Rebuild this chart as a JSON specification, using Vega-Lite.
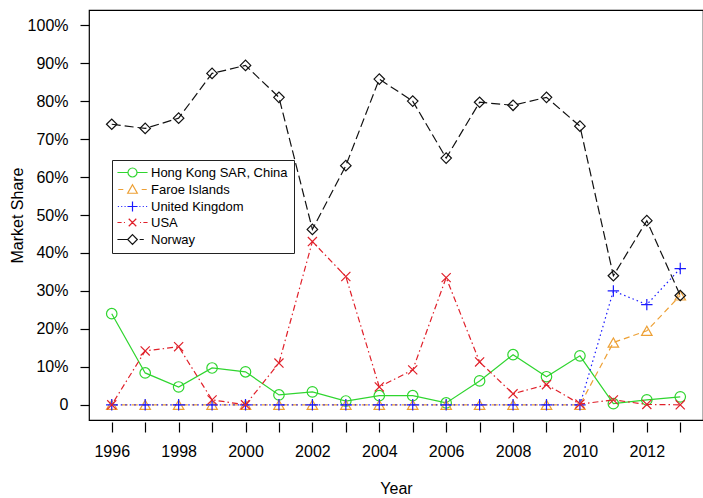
{
  "$schema": "https://vega.github.io/schema/vega-lite/v6.json",
  "autosize": {"type": "none"},
  "width": 614,
  "height": 410,
  "padding": {"left": 89, "top": 10, "right": 0, "bottom": 78},
  "background": "white",
  "config": {
    "font": "Liberation Sans",
    "view": {"stroke": "black", "strokeWidth": 1.2}
  },
  "data": {"values": [
    {"year":1996,"country":"Hong Kong SAR, China","share":0.240},
    {"year":1997,"country":"Hong Kong SAR, China","share":0.084},
    {"year":1998,"country":"Hong Kong SAR, China","share":0.047},
    {"year":1999,"country":"Hong Kong SAR, China","share":0.097},
    {"year":2000,"country":"Hong Kong SAR, China","share":0.087},
    {"year":2001,"country":"Hong Kong SAR, China","share":0.026},
    {"year":2002,"country":"Hong Kong SAR, China","share":0.034},
    {"year":2003,"country":"Hong Kong SAR, China","share":0.010},
    {"year":2004,"country":"Hong Kong SAR, China","share":0.024},
    {"year":2005,"country":"Hong Kong SAR, China","share":0.024},
    {"year":2006,"country":"Hong Kong SAR, China","share":0.005},
    {"year":2007,"country":"Hong Kong SAR, China","share":0.063},
    {"year":2008,"country":"Hong Kong SAR, China","share":0.132},
    {"year":2009,"country":"Hong Kong SAR, China","share":0.074},
    {"year":2010,"country":"Hong Kong SAR, China","share":0.129},
    {"year":2011,"country":"Hong Kong SAR, China","share":0.003},
    {"year":2012,"country":"Hong Kong SAR, China","share":0.013},
    {"year":2013,"country":"Hong Kong SAR, China","share":0.021},
    {"year":1996,"country":"Faroe Islands","share":0},
    {"year":1997,"country":"Faroe Islands","share":0},
    {"year":1998,"country":"Faroe Islands","share":0},
    {"year":1999,"country":"Faroe Islands","share":0},
    {"year":2000,"country":"Faroe Islands","share":0},
    {"year":2001,"country":"Faroe Islands","share":0},
    {"year":2002,"country":"Faroe Islands","share":0},
    {"year":2003,"country":"Faroe Islands","share":0},
    {"year":2004,"country":"Faroe Islands","share":0},
    {"year":2005,"country":"Faroe Islands","share":0},
    {"year":2006,"country":"Faroe Islands","share":0},
    {"year":2007,"country":"Faroe Islands","share":0},
    {"year":2008,"country":"Faroe Islands","share":0},
    {"year":2009,"country":"Faroe Islands","share":0},
    {"year":2010,"country":"Faroe Islands","share":0},
    {"year":2011,"country":"Faroe Islands","share":0.164},
    {"year":2012,"country":"Faroe Islands","share":0.195},
    {"year":2013,"country":"Faroe Islands","share":0.288},
    {"year":1996,"country":"United Kingdom","share":0},
    {"year":1997,"country":"United Kingdom","share":0},
    {"year":1998,"country":"United Kingdom","share":0},
    {"year":1999,"country":"United Kingdom","share":0},
    {"year":2000,"country":"United Kingdom","share":0},
    {"year":2001,"country":"United Kingdom","share":0},
    {"year":2002,"country":"United Kingdom","share":0},
    {"year":2003,"country":"United Kingdom","share":0},
    {"year":2004,"country":"United Kingdom","share":0},
    {"year":2005,"country":"United Kingdom","share":0},
    {"year":2006,"country":"United Kingdom","share":0},
    {"year":2007,"country":"United Kingdom","share":0},
    {"year":2008,"country":"United Kingdom","share":0},
    {"year":2009,"country":"United Kingdom","share":0},
    {"year":2010,"country":"United Kingdom","share":0},
    {"year":2011,"country":"United Kingdom","share":0.300},
    {"year":2012,"country":"United Kingdom","share":0.264},
    {"year":2013,"country":"United Kingdom","share":0.359},
    {"year":1996,"country":"USA","share":0},
    {"year":1997,"country":"USA","share":0.142},
    {"year":1998,"country":"USA","share":0.153},
    {"year":1999,"country":"USA","share":0.013},
    {"year":2000,"country":"USA","share":0},
    {"year":2001,"country":"USA","share":0.110},
    {"year":2002,"country":"USA","share":0.430},
    {"year":2003,"country":"USA","share":0.338},
    {"year":2004,"country":"USA","share":0.047},
    {"year":2005,"country":"USA","share":0.092},
    {"year":2006,"country":"USA","share":0.335},
    {"year":2007,"country":"USA","share":0.113},
    {"year":2008,"country":"USA","share":0.029},
    {"year":2009,"country":"USA","share":0.053},
    {"year":2010,"country":"USA","share":0.002},
    {"year":2011,"country":"USA","share":0.013},
    {"year":2012,"country":"USA","share":0.001},
    {"year":2013,"country":"USA","share":0},
    {"year":1996,"country":"Norway","share":0.739},
    {"year":1997,"country":"Norway","share":0.728},
    {"year":1998,"country":"Norway","share":0.755},
    {"year":1999,"country":"Norway","share":0.873},
    {"year":2000,"country":"Norway","share":0.894},
    {"year":2001,"country":"Norway","share":0.810},
    {"year":2002,"country":"Norway","share":0.462},
    {"year":2003,"country":"Norway","share":0.630},
    {"year":2004,"country":"Norway","share":0.858},
    {"year":2005,"country":"Norway","share":0.800},
    {"year":2006,"country":"Norway","share":0.650},
    {"year":2007,"country":"Norway","share":0.797},
    {"year":2008,"country":"Norway","share":0.789},
    {"year":2009,"country":"Norway","share":0.810},
    {"year":2010,"country":"Norway","share":0.734},
    {"year":2011,"country":"Norway","share":0.340},
    {"year":2012,"country":"Norway","share":0.485},
    {"year":2013,"country":"Norway","share":0.288}
  ]},
  "encoding": {
    "x": {
      "field": "year", "type": "quantitative",
      "scale": {"domain": [1995.32, 2013.68], "nice": false, "zero": false},
      "axis": {
        "title": "Year", "titleFontSize": 16, "titleFontWeight": "normal", "titlePadding": 21, "titleColor": "black",
        "values": [1996,1997,1998,1999,2000,2001,2002,2003,2004,2005,2006,2007,2008,2009,2010,2011,2012,2013],
        "labelExpr": "datum.value % 2 == 0 && datum.value < 2013 ? '' + datum.value : ''",
        "labelFontSize": 16, "labelColor": "black", "labelPadding": 11,
        "tickSize": 10, "tickColor": "black", "tickWidth": 1.2, "grid": false, "domain": false,
        "labelFlush": false, "labelOverlap": false, "offset": 2
      }
    },
    "y": {
      "field": "share", "type": "quantitative",
      "scale": {"domain": [-0.04, 1.04], "nice": false, "zero": false},
      "axis": {
        "title": "Market Share", "titleFontSize": 16, "titleFontWeight": "normal", "titlePadding": 2, "titleColor": "black",
        "values": [0,0.1,0.2,0.3,0.4,0.5,0.6,0.7,0.8,0.9,1.0],
        "labelExpr": "datum.value == 0 ? '0' : format(datum.value, '.0%')",
        "labelFontSize": 16, "labelColor": "black", "labelPadding": 12,
        "tickSize": 9, "tickColor": "black", "tickWidth": 1.2, "grid": false, "domain": false,
        "labelFlush": false, "labelOverlap": false
      }
    },
    "color": {
      "field": "country", "type": "nominal",
      "scale": {
        "domain": ["Hong Kong SAR, China","Faroe Islands","United Kingdom","USA","Norway"],
        "range": ["#2fd52f","#eda035","#1a1aff","#e0202a","#111111"]
      },
      "legend": {
        "title": null, "orient": "none", "legendX": 23, "legendY": 150,
        "strokeColor": "#222222", "fillColor": "white", "padding": 6,
        "labelFontSize": 13, "labelColor": "black", "rowPadding": 2,
        "symbolStrokeWidth": 1.2, "symbolSize": 70, "symbolOpacity": 1,
        "labelOffset": 12, "symbolOffset": 8
      }
    }
  },
  "layer": [
    {
      "transform": [{"filter": "datum.country == 'Hong Kong SAR, China'"}],
      "mark": {"type": "line", "strokeWidth": 1.2,
        "point": {"shape": "circle", "filled": false, "size": 110, "strokeWidth": 1.2, "opacity": 1}}
    },
    {
      "transform": [{"filter": "datum.country == 'Faroe Islands'"}],
      "mark": {"type": "line", "strokeWidth": 1.2, "strokeDash": [6, 4],
        "point": {"shape": "triangle-up", "filled": false, "size": 110, "strokeWidth": 1.2, "opacity": 1}}
    },
    {
      "transform": [{"filter": "datum.country == 'United Kingdom'"}],
      "mark": {"type": "line", "strokeWidth": 1.2, "strokeDash": [1.5, 3],
        "point": {"shape": "M-1,0L1,0M0,-1L0,1", "filled": false, "size": 130, "strokeWidth": 1.2, "opacity": 1}}
    },
    {
      "transform": [{"filter": "datum.country == 'USA'"}],
      "mark": {"type": "line", "strokeWidth": 1.2, "strokeDash": [1.5, 3, 6, 3],
        "point": {"shape": "M-0.8,-0.8L0.8,0.8M-0.8,0.8L0.8,-0.8", "filled": false, "size": 130, "strokeWidth": 1.2, "opacity": 1}}
    },
    {
      "transform": [{"filter": "datum.country == 'Norway'"}],
      "mark": {"type": "line", "strokeWidth": 1.2, "strokeDash": [9, 4],
        "point": {"shape": "diamond", "filled": false, "size": 110, "strokeWidth": 1.2, "opacity": 1}}
    },
    {
      "mark": {"type": "point", "filled": false, "opacity": 0, "strokeWidth": 1.2},
      "encoding": {
        "shape": {
          "field": "country", "type": "nominal",
          "scale": {
            "domain": ["Hong Kong SAR, China","Faroe Islands","United Kingdom","USA","Norway"],
            "range": [
              "M-3.6,0L-1.08,0M1.08,0L3.6,0M1.08,0A1.08,1.08 0 1 1 -1.08,0A1.08,1.08 0 1 1 1.08,0",
              "M-3.4,0L-2.2,0M2.2,0L3.4,0M0,-1.15L1.15,0.9L-1.15,0.9Z",
              "M-3.5,0L-3.25,0M-2.7,0L-2.45,0M-1.9,0L-1.65,0M-1.2,0L1.2,0M0,-1.2L0,1.2M1.65,0L1.9,0M2.45,0L2.7,0M3.25,0L3.5,0",
              "M-3.6,0L-2.6,0M-2.05,0L-1.8,0M-0.9,-0.9L0.9,0.9M-0.9,0.9L0.9,-0.9M1.8,0L2.05,0M2.6,0L3.6,0",
              "M-3.6,0L-1.15,0M0,-1.15L1.15,0L0,1.15L-1.15,0ZM1.7,0L2.7,0"
            ]
          },
          "legend": {
            "title": null, "orient": "none", "legendX": 23, "legendY": 150,
            "strokeColor": "#222222", "fillColor": "white", "padding": 6,
            "labelFontSize": 13, "labelColor": "black", "rowPadding": 2,
            "symbolStrokeWidth": 1.2, "symbolSize": 70, "symbolOpacity": 1,
            "labelOffset": 12, "symbolOffset": 8
          }
        }
      }
    }
  ]
}
